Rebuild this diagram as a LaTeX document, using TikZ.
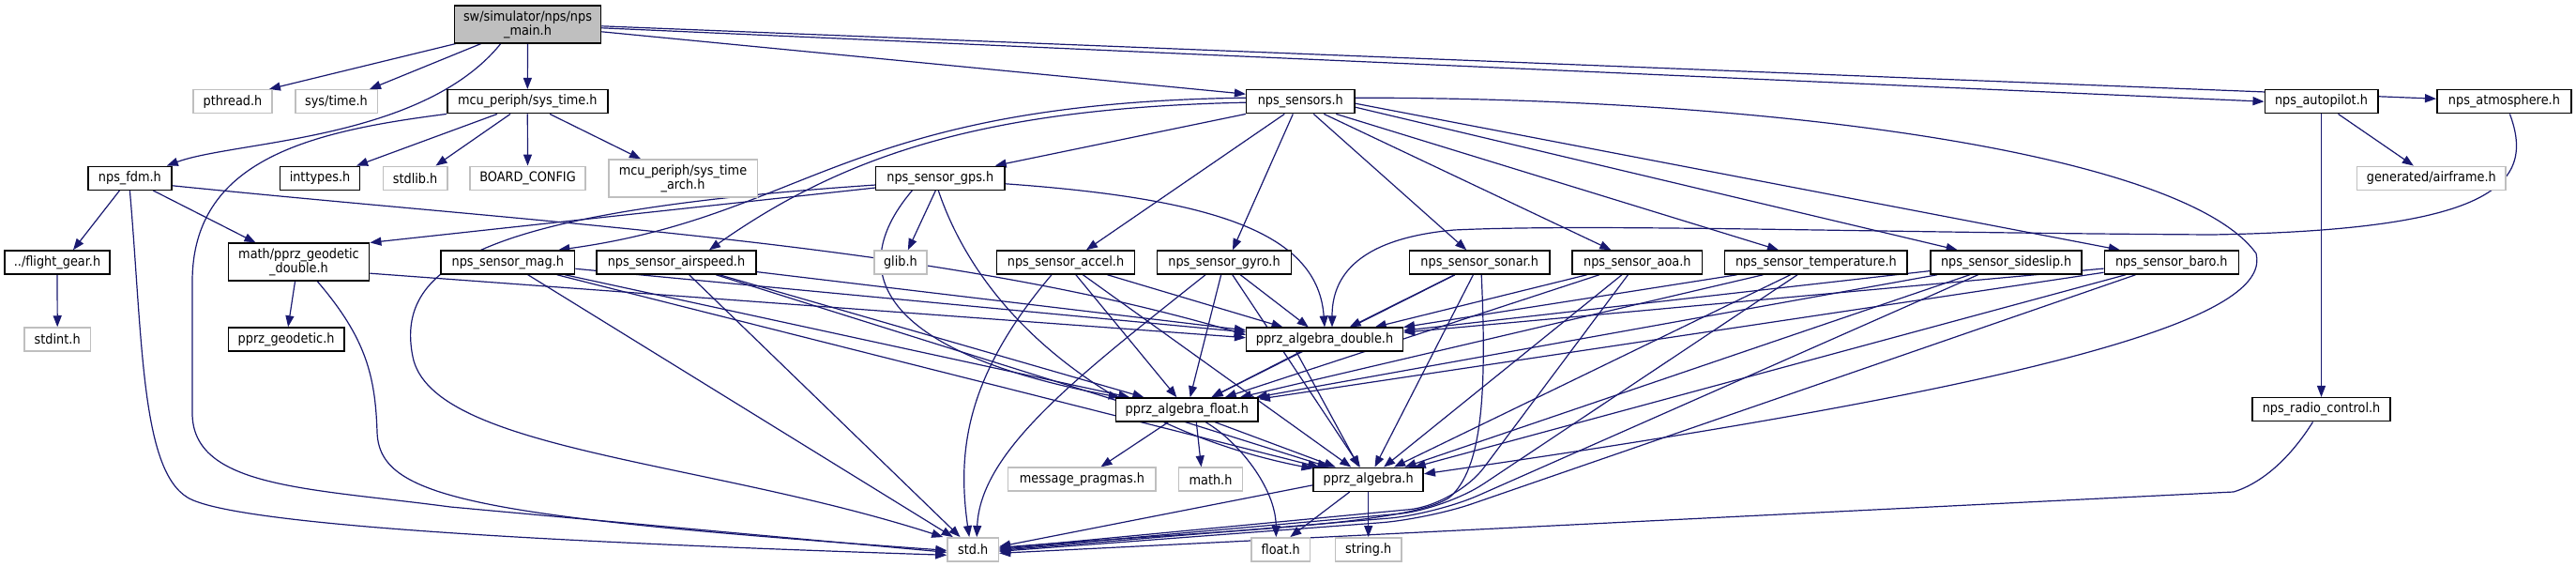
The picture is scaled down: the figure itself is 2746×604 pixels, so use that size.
\documentclass[tikz,border=0pt]{standalone}
\usepackage{fontspec}
\setmainfont{DejaVu Sans}[FakeStretch=0.9]
\usetikzlibrary{arrows.meta}
\definecolor{edgeblue}{HTML}{191970}
\definecolor{extgray}{HTML}{BFBFBF}
\pgfdeclarelayer{edgelayer}
\pgfsetlayers{edgelayer,main}
\begin{document}
\begin{tikzpicture}[x=1pt,y=-1pt,
  box/.style={line width=1.5pt, minimum height=25pt, inner sep=0pt, fill=white,
    font=\fontsize{14.3}{15}\selectfont, align=center},
  doc/.style={box, draw=black},
  ext/.style={box, draw=extgray},
  root/.style={box, draw=black, fill=extgray},
  dep/.style={draw=edgeblue, line width=1.2pt, -{Triangle[length=12pt,width=9pt]}}
]
\useasboundingbox (0,0) rectangle (2746,604);

% row 0
\node[root, minimum width=156pt, minimum height=40pt] (main) at (562.5,25.8) {sw/simulator/nps/nps\\\_main.h};
% row 1
\node[ext, minimum width=84.4pt] (pthread) at (248,108.2) {pthread.h};
\node[ext, minimum width=87.5pt] (systime) at (358.5,108.2) {sys/time.h};
\node[doc, minimum width=171pt] (mcusys) at (562.3,108.2) {mcu\_periph/sys\_time.h};
\node[doc, minimum width=115.3pt] (sensors) at (1386.3,108.2) {nps\_sensors.h};
\node[doc, minimum width=120.5pt] (autopilot) at (2474.5,108.2) {nps\_autopilot.h};
\node[doc, minimum width=143.3pt] (atmos) at (2669.4,108.2) {nps\_atmosphere.h};
% row 2
\node[doc, minimum width=89.3pt] (fdm) at (138.4,189.8) {nps\_fdm.h};
\node[doc, minimum width=84.8pt] (inttypes) at (341,189.8) {inttypes.h};
\node[ext, minimum width=68.3pt] (stdlib) at (442.6,189.8) {stdlib.h};
\node[ext, minimum width=123.2pt] (board) at (562.5,189.8) {BOARD\_CONFIG};
\node[ext, minimum width=158.5pt, minimum height=40pt] (arch) at (728,190) {mcu\_periph/sys\_time\\\_arch.h};
\node[doc, minimum width=137.4pt] (gps) at (1002.3,189.8) {nps\_sensor\_gps.h};
\node[ext, minimum width=158.5pt] (airframe) at (2591.8,189.8) {generated/airframe.h};
% row 3
\node[doc, minimum width=112pt] (flight) at (61,279.5) {../flight\_gear.h};
\node[doc, minimum width=150.4pt, minimum height=40pt] (geod) at (318.5,279.2) {math/pprz\_geodetic\\\_double.h};
\node[doc, minimum width=142.5pt] (mag) at (541.3,279.5) {nps\_sensor\_mag.h};
\node[doc, minimum width=169.7pt] (airspeed) at (721,279.5) {nps\_sensor\_airspeed.h};
\node[ext, minimum width=56.2pt] (glib) at (959.9,279.5) {glib.h};
\node[doc, minimum width=147pt] (accel) at (1136,279.5) {nps\_sensor\_accel.h};
\node[doc, minimum width=142.9pt] (gyro) at (1305,279.5) {nps\_sensor\_gyro.h};
\node[doc, minimum width=149.6pt] (sonar) at (1577.2,279.5) {nps\_sensor\_sonar.h};
\node[doc, minimum width=138.5pt] (aoa) at (1745.3,279.5) {nps\_sensor\_aoa.h};
\node[doc, minimum width=194.6pt] (temp) at (1935.9,279.5) {nps\_sensor\_temperature.h};
\node[doc, minimum width=161.2pt] (sideslip) at (2138.6,279.5) {nps\_sensor\_sideslip.h};
\node[doc, minimum width=142.9pt] (baro) at (2314.8,279.5) {nps\_sensor\_baro.h};
% row 4
\node[ext, minimum width=70.5pt] (stdint) at (61.2,361.5) {stdint.h};
\node[doc, minimum width=123.7pt] (pgeod) at (305.1,361.5) {pprz\_geodetic.h};
\node[doc, minimum width=166.6pt] (double) at (1412,361.7) {pprz\_algebra\_double.h};
% row 5
\node[doc, minimum width=151.8pt] (float) at (1265.3,436.5) {pprz\_algebra\_float.h};
\node[doc, minimum width=147.3pt] (radio) at (2474.5,436.2) {nps\_radio\_control.h};
% row 6
\node[ext, minimum width=157.6pt] (pragmas) at (1153.4,510.7) {message\_pragmas.h};
\node[ext, minimum width=68.3pt] (math) at (1290.5,510.7) {math.h};
\node[doc, minimum width=117pt] (palg) at (1458.7,510.8) {pprz\_algebra.h};
% row 7
\node[ext, minimum width=54.4pt] (std) at (1037.2,585.3) {std.h};
\node[ext, minimum width=62.6pt] (floath) at (1365.3,585.3) {float.h};
\node[ext, minimum width=70.5pt] (string) at (1458.7,585.3) {string.h};

\begin{pgfonlayer}{edgelayer}
% main
\draw[dep] ([xshift=2pt]main.south west) -- ([xshift=-4pt]pthread.north east);
\draw[dep] ([xshift=29pt]main.south west) -- ([xshift=-9pt]systime.north east);
\draw[dep] ([xshift=50pt]main.south west) .. controls (450,150) and (250,150) .. ([xshift=-6pt]fdm.north east);
\draw[dep] (main.south) -- (mcusys.north);
\draw[dep] ([yshift=-8pt]main.east) -- ([yshift=8pt]sensors.west);
\draw[dep] ([yshift=-4pt]main.east) -- (autopilot.west);
\draw[dep] ([yshift=-2pt]main.east) -- ([yshift=3pt]atmos.west);

% mcu_periph/sys_time.h
\draw[dep] ([xshift=54pt]mcusys.south west) -- ([xshift=-4pt]inttypes.north east);
\draw[dep] ([xshift=68pt]mcusys.south west) -- ([xshift=-13pt]stdlib.north east);
\draw[dep] (mcusys.south) -- (board.north);
\draw[dep] ([xshift=110pt]mcusys.south west) -- ([xshift=-45pt]arch.north);
\draw[dep] (mcusys.south west) .. controls (330,140) and (205,170) .. (205,300)
  -- (205,440) .. controls (205,520) and (330,520) .. (480,540) -- ([yshift=-3pt]std.west);

% nps_fdm.h
\draw[dep] ([xshift=-11pt]fdm.south) -- ([xshift=17pt]flight.north);
\draw[dep] ([xshift=25pt]fdm.south) -- ([xshift=-46pt]geod.north);
\draw[dep] (fdm.south) .. controls (152,360) and (150,500) .. (200,530)
  .. controls (250,560) and (600,578) .. ([yshift=-6pt]std.west);
\draw[dep] ([yshift=-8pt]fdm.east) .. controls (600,240) and (1000,260) .. ([yshift=5pt]double.west);
\draw[dep] (flight.south) -- (stdint.north);

% math/pprz_geodetic_double.h
\draw[dep] ([xshift=-4pt]geod.south) -- ([xshift=2pt]pgeod.north);
\draw[dep] ([xshift=20pt]geod.south) .. controls (390,360) and (400,400) .. (402,460)
  .. controls (404,530) and (500,550) .. ([yshift=-1pt]std.west);
\draw[dep] ([yshift=-12pt]geod.east) -- ([yshift=2pt]double.west);

% nps_sensors.h
\draw[dep] (sensors.south west) -- ([xshift=-11pt]gps.north east);
\draw[dep] ([yshift=4pt]sensors.west) .. controls (900,110) and (860,230) .. ([xshift=-18pt]mag.north east);
\draw[dep] ([yshift=-1pt]sensors.west) .. controls (1050,115) and (900,165) .. ([xshift=35pt]airspeed.north);
\draw[dep] ([xshift=-17pt]sensors.south) -- ([xshift=22pt]accel.north);
\draw[dep] ([xshift=-8pt]sensors.south) -- ([xshift=9pt]gyro.north);
\draw[dep] ([xshift=14pt]sensors.south) -- ([xshift=-14pt]sonar.north);
\draw[dep] ([xshift=25pt]sensors.south) -- ([xshift=-28pt]aoa.north);
\draw[dep] ([xshift=38pt]sensors.south) -- ([xshift=-40pt]temp.north);
\draw[dep] ([yshift=-6pt]sensors.east) -- ([xshift=-52pt]sideslip.north);
\draw[dep] ([yshift=-2pt]sensors.east) -- ([xshift=-55pt]baro.north);
\draw[dep] ([yshift=4pt]sensors.east) .. controls (1900,104) and (2330,165) .. (2405,270)
  .. controls (2420,330) and (2250,400) .. ([yshift=6pt]palg.east);

% nps_sensor_gps.h
\draw[dep] ([yshift=3pt]gps.south west) -- (geod.north east);
\draw[dep] ([yshift=6pt]gps.south west) .. controls (520,225) and (420,280) .. (440,380)
  .. controls (460,480) and (750,490) .. ([xshift=-4pt]std.north west);
\draw[dep] ([xshift=-5pt]gps.south) -- ([xshift=8pt]glib.north);
\draw[dep] ([yshift=-6pt]gps.east) .. controls (1300,212) and (1405,250) .. (double.north);
\draw[dep] ([xshift=-30pt]gps.south) .. controls (890,300) and (960,380) .. (float);
\draw[dep] ([xshift=-2pt]gps.south) .. controls (1050,350) and (1200,460) .. (palg);

% other sensors: algebra headers
\foreach \s in {mag,airspeed,accel,gyro,sonar,aoa,temp,sideslip,baro}{
  \draw[dep] (\s) -- (palg);
  \draw[dep] (\s) -- (double);
  \draw[dep] (\s) -- (float);
}
% other sensors: std.h
\draw[dep] (mag) -- (std);
\draw[dep] (airspeed) -- (std);
\draw[dep] ([xshift=-15pt]accel.south) .. controls (1030,400) and (1020,480) .. ([xshift=-4pt]std.north);
\draw[dep] ([xshift=-20pt]gyro.south) .. controls (1150,400) and (1045,480) .. ([xshift=4pt]std.north);
\draw[dep] ([xshift=2pt]sonar.south) .. controls (1585,420) and (1580,500) .. (1545,530)
  .. controls (1500,560) and (1300,565) .. ([yshift=2pt]std.east);
\foreach \s/\px/\py/\d in {aoa/1552/538/1,temp/1540/543/0,sideslip/1530/548/-1,baro/1522/553/-2}{
  \draw[dep, rounded corners=50pt] (\s) -- (\px,\py) -- ([yshift=\d pt]std.east);
}

% autopilot, radio, atmosphere
\draw[dep] ([xshift=18pt]autopilot.south) -- ([xshift=-19pt]airframe.north);
\draw[dep] (autopilot.south) -- (radio.north);
\draw[dep] ([xshift=-9pt]radio.south) .. controls (2440,490) and (2410,515) .. (2381,524) -- ([yshift=-4pt]std.east);
\draw[dep] ([xshift=6pt]atmos.south) .. controls (2705,200) and (2650,245) .. (2358,250)
  .. controls (2000,248) and (1700,238) .. (1550,245)
  .. controls (1440,255) and (1420,300) .. ([xshift=8pt]double.north);

% algebra headers
\draw[dep] (double) -- (float);
\draw[dep] ([xshift=-30pt]double.south) -- ([xshift=-10pt]palg.north);
\draw[dep] (float) -- (pragmas);
\draw[dep] ([xshift=10pt]float.south) -- ([xshift=-10pt]math.north);
\draw[dep] ([xshift=20pt]float.south) .. controls (1320,470) and (1360,520) .. ([xshift=-5pt]floath.north);
\draw[dep] ([xshift=30pt]float.south) -- ([xshift=-35pt]palg.north);
\draw[dep] ([xshift=-20pt]palg.south) -- ([xshift=10pt]floath.north);
\draw[dep] (palg.south) -- (string.north);
\draw[dep] ([yshift=-6pt]palg.west) -- ([yshift=3pt]std.east);
\end{pgfonlayer}
\end{tikzpicture}
\end{document}
